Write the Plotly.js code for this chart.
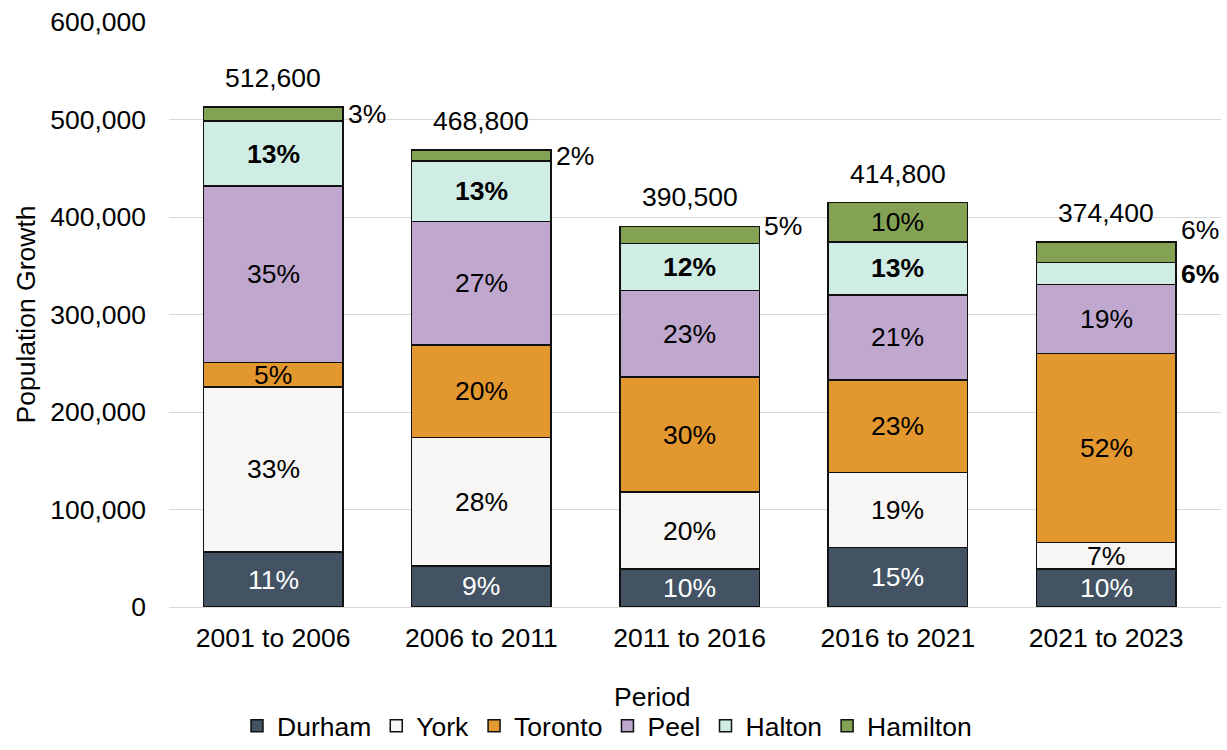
<!DOCTYPE html>
<html>
<head>
<meta charset="utf-8">
<script src="https://cdn.plot.ly/plotly-3.0.1.min.js"></script>
<style>html,body{margin:0;padding:0;background:#fff;overflow:hidden;}#chart{width:1227px;height:750px;}</style>
</head>
<body>
<div id="chart"></div>
<script>
// ---- data ----
const categories = ['2001 to 2006', '2006 to 2011', '2011 to 2016', '2016 to 2021', '2021 to 2023'];
const regions = ['Durham', 'York', 'Toronto', 'Peel', 'Halton', 'Hamilton'];
const durham   = [56400, 42100, 39000, 60900, 39000];
const york     = [169500, 131500, 78700, 77000, 27000];
const toronto  = [25000, 95000, 118100, 95100, 194100];
const peel     = [181000, 127000, 88600, 86900, 70500];
const halton   = [66400, 62000, 48200, 54700, 22900];
const hamilton = [14300, 11200, 17900, 40200, 20900];
const yTickVals = [0, 100000, 200000, 300000, 400000, 500000, 600000];
const yTickText = ['0', '100,000', '200,000', '300,000', '400,000', '500,000', '600,000'];

// ---- style ----
const seriesValues = [durham, york, toronto, peel, halton, hamilton];
const colors = ['#435363', '#F7F6F4', '#E3972F', '#BFA7CE', '#CFEDE5', '#83A253'];
const labelColors = ['#ffffff', '#000', '#000', '#000', '#000', '#000'];
const labelBold = [false, false, false, false, true, false];
// labels drawn beside the bar: [seriesIndex, categoryIndex, vertical shift px]
const outsideLabels = [[5, 0, 0], [5, 1, -1], [5, 2, 9], [5, 4, 22], [4, 4, 0]];
const FONT = 'Arial, "Liberation Sans", sans-serif';
const FS = 26.5;

const traces = regions.map((name, s) => ({
  type: 'bar',
  name: name,
  x: categories,
  y: seriesValues[s],
  marker: {color: colors[s], line: {color: '#111', width: 1.5}},
  hoverinfo: 'skip'
}));

const totals = categories.map((c, i) => seriesValues.reduce((a, arr) => a + arr[i], 0));
const fmt = v => Math.round(v).toLocaleString('en-US');

const annotations = [];
categories.forEach((cat, i) => {
  let base = 0;
  seriesValues.forEach((arr, s) => {
    const v = arr[i];
    const mid = base + v / 2;
    base += v;
    const pct = Math.round(v / totals[i] * 100) + '%';
    const txt = labelBold[s] ? '<b>' + pct + '</b>' : pct;
    const out = outsideLabels.find(o => o[0] === s && o[1] === i);
    if (out) {
      annotations.push({
        x: i + 0.335, y: mid, xref: 'x', yref: 'y', text: txt, showarrow: false,
        xanchor: 'left', yanchor: 'middle', xshift: 3, yshift: out[2],
        font: {family: FONT, size: FS, color: '#000'}
      });
    } else {
      annotations.push({
        x: cat, y: mid, xref: 'x', yref: 'y', text: txt, showarrow: false,
        xanchor: 'center', yanchor: 'middle',
        font: {family: FONT, size: FS, color: labelColors[s]}
      });
    }
  });
  annotations.push({
    x: cat, y: totals[i], xref: 'x', yref: 'y', text: fmt(totals[i]), showarrow: false,
    xanchor: 'center', yanchor: 'middle', yshift: 29,
    font: {family: FONT, size: FS, color: '#000'}
  });
});
annotations.push({
  x: 0.5, y: (607 - 697) / (607 - 22), xref: 'paper', yref: 'paper', text: 'Period', showarrow: false,
  xanchor: 'center', yanchor: 'middle',
  font: {family: FONT, size: FS, color: '#000'}
});

const layout = {
  width: 1227, height: 750,
  margin: {l: 169, r: 6, t: 22, b: 143, autoexpand: false},
  paper_bgcolor: '#fff', plot_bgcolor: '#fff',
  barmode: 'stack', bargap: 0.33,
  font: {family: FONT, size: FS, color: '#000'},
  showlegend: true,
  legend: {
    orientation: 'h', xref: 'container', x: 607 / 1227, xanchor: 'center',
    yref: 'container', y: -0.007, yanchor: 'bottom',
    font: {family: FONT, size: FS, color: '#000'}, traceorder: 'normal', itemwidth: 30
  },
  xaxis: {
    type: 'category', showgrid: false, showline: true, linecolor: '#d9d9d9', linewidth: 1,
    ticks: '', tickfont: {family: FONT, size: FS, color: '#000'}, ticklabelstandoff: 7
  },
  yaxis: {
    range: [0, 600000], tickvals: yTickVals, ticktext: yTickText,
    showgrid: true, gridcolor: '#d9d9d9', gridwidth: 1, zeroline: false, showline: false,
    ticks: '', tickfont: {family: FONT, size: FS, color: '#000'}, ticklabelstandoff: 22,
    title: {text: 'Population Growth', font: {family: FONT, size: FS, color: '#000'}, standoff: 6}
  },
  annotations: annotations
};
// place "Period" at x = 652 px of the page, converted to plot-area fraction
const plotW = layout.width - layout.margin.l - layout.margin.r;
annotations[annotations.length - 1].x = (652 - layout.margin.l) / plotW;

Plotly.newPlot('chart', traces, layout, {displayModeBar: false, staticPlot: true});
</script>
</body>
</html>
